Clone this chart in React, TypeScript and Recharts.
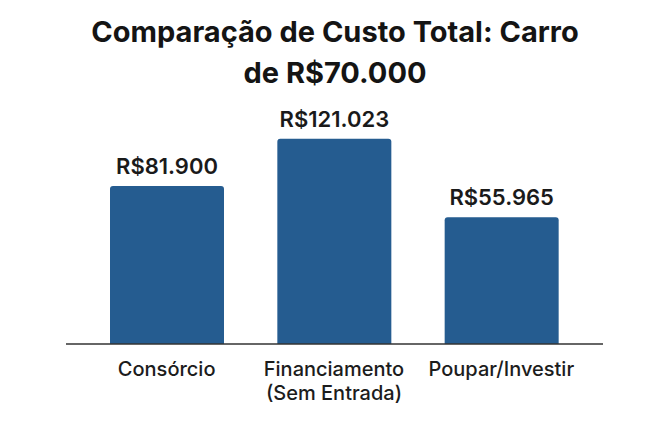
import { BarChart, Bar, XAxis, YAxis, LabelList } from "recharts";

const categories = ["Consórcio", "Financiamento\n(Sem Entrada)", "Poupar/Investir"];
const custos = [81900, 121023, 55965];

// the picture's value axis does not start at zero
const AXIS_MIN = -49000;
const AXIS_MAX = 125000;

const data = categories.map((nome, i) => ({ nome, custo: custos[i] }));

function formatBRL(v: number) {
  return "R$" + String(v).replace(/\B(?=(\d{3})+(?!\d))/g, ".");
}

function Tick(props: any) {
  const { x, y, payload } = props;
  const lines = String(payload.value).split("\n");
  return (
    <text
      x={x}
      y={y}
      textAnchor="middle"
      fill="#1c1c1c"
      fontSize={20}
      fontWeight={500}
      fontFamily="Inter, sans-serif"
    >
      {lines.map((l, i) => (
        <tspan key={i} x={x} dy={24}>
          {l}
        </tspan>
      ))}
    </text>
  );
}

export default function App() {
  return (
    <div style={{ position: "absolute", left: 0, top: 0, width: 670, height: 447, background: "#fff" }}>
      <div
        style={{
          position: "absolute",
          top: 11,
          left: 0,
          width: 670,
          textAlign: "center",
          fontFamily: "Inter, sans-serif",
          fontWeight: 700,
          fontSize: 29,
          lineHeight: "41px",
          color: "#141414",
        }}
      >
        Comparação de Custo Total: Carro
        <br />
        de R$70.000
      </div>
      <BarChart
        width={670}
        height={447}
        data={data}
        margin={{ top: 134, right: 67, bottom: 43, left: 66 }}
      >
        <XAxis
          dataKey="nome"
          height={60}
          tickLine={false}
          axisLine={{ stroke: "#333", strokeWidth: 1.5 }}
          padding={{ left: 17, right: 18 }}
          tick={<Tick />}
          interval={0}
        />
        <YAxis hide domain={[AXIS_MIN, AXIS_MAX]} />
        <Bar
          dataKey={(d: any) => [AXIS_MIN, d.custo]}
          fill="#255C90"
          barSize={114}
          radius={[3, 3, 0, 0]}
          isAnimationActive={false}
        >
          <LabelList
            dataKey="custo"
            position="top"
            offset={12}
            formatter={(v: any) => formatBRL(Number(v))}
            fill="#1a1a1a"
            fontSize={22}
            fontWeight={600}
            fontFamily="Inter, sans-serif"
          />
        </Bar>
      </BarChart>
    </div>
  );
}
